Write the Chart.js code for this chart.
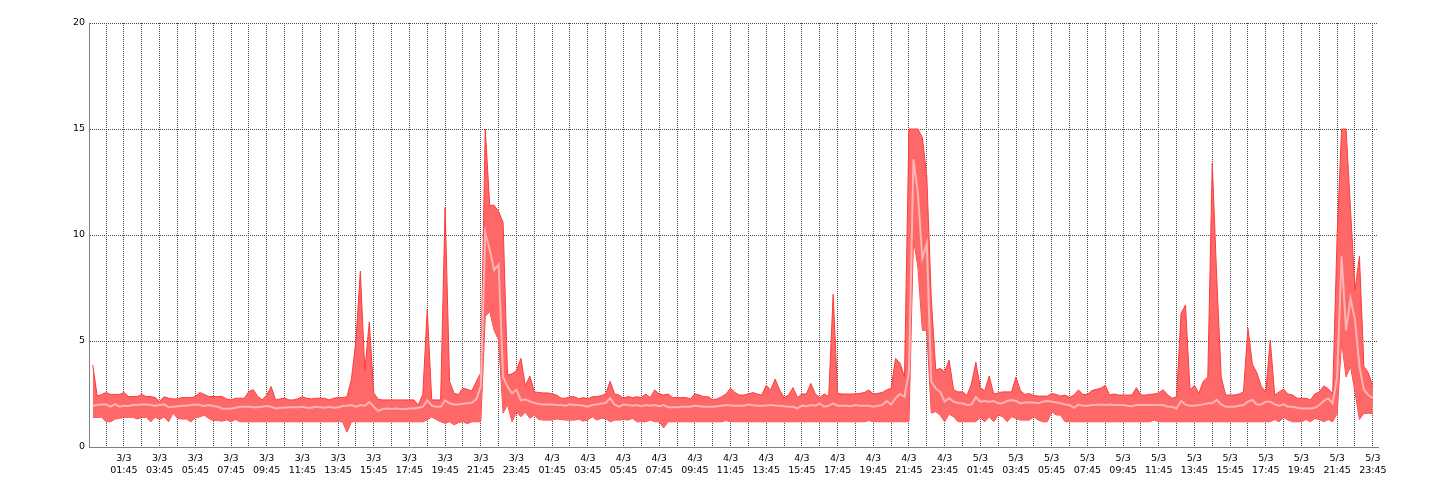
<!DOCTYPE html>
<html>
<head>
<meta charset="utf-8">
<script src="https://cdn.jsdelivr.net/npm/chart.js@4.4.1/dist/chart.umd.min.js"></script>
<style>
html,body{margin:0;padding:0;background:#fff;}
#wrap{width:1440px;height:500px;}
</style>
</head>
<body>
<div id="wrap"><canvas id="c" width="1440" height="500"></canvas></div>
<script>
// ---- data (15-minute samples starting 3/3 00:00) ----
const days = ['3/3', '4/3', '5/3'];
const tickTimes = ['01:45','03:45','05:45','07:45','09:45','11:45','13:45','15:45','17:45','19:45','21:45','23:45'];
const sampleStepHours = 0.25;

const maxDay1 = [3.87,2.40,2.48,2.57,2.48,2.48,2.48,2.57,2.38,2.38,
  2.38,2.48,2.38,2.38,2.33,2.14,2.37,2.30,2.27,2.27,
  2.33,2.33,2.33,2.37,2.57,2.48,2.38,2.38,2.38,2.38,
  2.27,2.22,2.30,2.30,2.30,2.62,2.70,2.38,2.22,2.45,
  2.85,2.22,2.27,2.30,2.22,2.22,2.28,2.37,2.30,2.27,
  2.30,2.30,2.30,2.22,2.30,2.33,2.33,2.37,3.20,5.00,
  8.30,3.60,5.90,2.55,2.25,2.22,2.22,2.22,2.22,2.22,
  2.22,2.22,2.22,1.98,2.48,6.50,2.22,2.22,2.22,11.30,
  3.10,2.53,2.48,2.77,2.72,2.64,3.08,3.50,15.0,11.4,
  11.4,11.1,10.6,3.40,3.45,3.60];
const avgDay1 = [1.95,1.98,2.01,2.01,1.90,2.02,1.90,1.95,1.93,1.98,
  1.98,2.01,2.01,1.98,1.95,1.98,2.01,1.88,1.90,1.92,
  1.95,1.95,1.98,2.01,1.98,1.93,1.98,1.93,1.90,1.82,
  1.80,1.80,1.85,1.90,1.90,1.90,1.87,1.87,1.90,1.93,
  1.90,1.82,1.85,1.85,1.87,1.87,1.87,1.90,1.85,1.85,
  1.90,1.87,1.85,1.90,1.85,1.87,1.93,1.95,1.98,1.90,
  1.98,1.95,2.12,1.90,1.70,1.79,1.82,1.79,1.82,1.79,
  1.79,1.82,1.82,1.85,1.90,2.20,1.95,1.90,1.90,2.20,
  2.06,2.01,2.01,2.04,2.06,2.09,2.26,2.86,10.1,9.3,
  8.35,8.6,3.3,2.84,2.53,2.7];
const minDay1 = [1.40,1.40,1.40,1.19,1.19,1.32,1.35,1.40,1.40,1.40,
  1.32,1.40,1.40,1.19,1.40,1.30,1.42,1.19,1.60,1.35,
  1.32,1.32,1.19,1.38,1.42,1.50,1.35,1.25,1.25,1.22,
  1.28,1.19,1.30,1.19,1.19,1.19,1.19,1.19,1.19,1.19,
  1.19,1.19,1.19,1.19,1.19,1.19,1.19,1.19,1.19,1.19,
  1.19,1.19,1.19,1.19,1.19,1.19,1.19,0.70,1.19,1.19,
  1.19,1.19,1.19,1.19,1.19,1.19,1.19,1.19,1.19,1.19,
  1.19,1.19,1.19,1.19,1.19,1.28,1.42,1.30,1.19,1.12,
  1.19,1.05,1.15,1.19,1.10,1.19,1.19,1.19,6.15,6.40,
  5.50,5.05,1.60,2.00,1.19,1.65];

const maxDay2 = [4.18,2.88,3.35,2.60,2.57,2.55,2.55,2.50,2.45,2.30,
  2.30,2.37,2.37,2.27,2.33,2.27,2.37,2.38,2.42,2.50,
  3.10,2.50,2.45,2.30,2.38,2.33,2.37,2.33,2.50,2.33,
  2.69,2.50,2.45,2.50,2.33,2.33,2.33,2.33,2.27,2.50,
  2.45,2.37,2.37,2.22,2.27,2.37,2.50,2.77,2.57,2.45,
  2.45,2.50,2.57,2.50,2.45,2.90,2.69,3.20,2.69,2.33,
  2.45,2.80,2.33,2.50,2.50,3.00,2.50,2.33,2.50,2.38,
  7.20,2.53,2.50,2.50,2.50,2.50,2.53,2.57,2.69,2.50,
  2.53,2.57,2.69,2.77,4.18,3.95,3.30,15.0,15.0,15.0,
  14.6,12.75,7.0,3.63,3.70,3.55];
const avgDay2 = [2.20,2.25,2.15,2.08,2.03,2.01,2.01,2.00,1.98,1.98,
  1.95,2.01,1.98,1.98,1.95,1.90,1.98,2.00,2.05,2.08,
  2.30,2.00,1.90,2.00,1.98,1.95,1.98,1.92,1.98,1.95,
  1.98,1.92,1.98,1.88,1.88,1.88,1.90,1.90,1.90,1.95,
  1.92,1.90,1.90,1.90,1.92,1.95,1.98,1.96,1.95,1.95,
  1.95,2.00,1.97,1.95,1.95,1.96,1.98,1.96,1.95,1.92,
  1.90,1.90,1.82,1.95,1.92,1.98,1.95,2.05,1.90,1.95,
  2.06,1.95,1.95,1.95,1.92,1.98,1.95,1.95,1.95,1.90,
  1.95,1.98,2.17,2.00,2.30,2.50,2.37,3.55,13.57,11.97,
  8.90,9.60,3.08,2.77,2.60,2.14];
const minDay2 = [1.43,1.65,1.35,1.50,1.30,1.27,1.27,1.27,1.32,1.30,
  1.27,1.27,1.27,1.32,1.22,1.27,1.43,1.27,1.35,1.35,
  1.19,1.27,1.27,1.30,1.27,1.35,1.19,1.19,1.19,1.27,
  1.19,1.19,0.90,1.19,1.19,1.19,1.19,1.19,1.19,1.19,
  1.19,1.19,1.19,1.19,1.19,1.19,1.25,1.19,1.19,1.19,
  1.19,1.19,1.19,1.19,1.19,1.19,1.19,1.19,1.19,1.19,
  1.19,1.19,1.19,1.19,1.19,1.19,1.19,1.19,1.19,1.19,
  1.19,1.19,1.19,1.19,1.19,1.19,1.19,1.19,1.25,1.19,
  1.19,1.19,1.19,1.19,1.19,1.19,1.19,1.19,9.80,8.50,
  5.50,5.50,1.60,1.67,1.50,1.19];

const maxDay3 = [4.10,2.70,2.60,2.60,2.43,2.97,4.00,2.80,2.65,3.35,
  2.50,2.55,2.60,2.60,2.60,3.30,2.65,2.48,2.52,2.43,
  2.40,2.40,2.40,2.52,2.48,2.40,2.45,2.33,2.45,2.69,
  2.48,2.48,2.66,2.72,2.77,2.90,2.45,2.50,2.45,2.45,
  2.45,2.45,2.80,2.45,2.45,2.48,2.50,2.55,2.70,2.45,
  2.30,2.37,6.30,6.70,2.70,2.90,2.53,3.10,3.30,13.40,
  8.00,3.30,2.45,2.45,2.45,2.50,2.60,5.60,3.90,3.50,
  2.85,2.60,5.05,2.45,2.60,2.72,2.50,2.45,2.30,2.30,
  2.30,2.22,2.50,2.60,2.88,2.75,2.50,10.0,15.0,15.0,
  11.2,7.4,9.0,3.8,3.5,2.85];
const avgDay3 = [2.30,2.14,2.08,2.06,1.98,2.00,2.35,2.14,2.17,2.14,
  2.17,2.06,2.06,2.17,2.22,2.17,2.06,2.10,2.10,2.10,
  2.06,2.14,2.17,2.14,2.10,2.06,2.00,1.98,1.85,2.00,
  1.95,1.95,1.98,1.98,2.00,1.98,2.00,1.98,1.98,1.98,
  1.95,1.92,1.98,1.98,1.98,1.98,1.98,1.98,1.98,1.90,
  1.90,1.82,2.17,2.00,1.95,1.95,1.98,2.01,2.06,2.06,
  2.22,2.01,1.90,1.90,1.90,1.95,1.98,2.14,2.22,2.01,
  2.01,2.14,2.14,2.01,1.95,2.01,1.90,1.90,1.85,1.82,
  1.82,1.82,1.85,1.98,2.17,2.30,2.06,3.30,9.00,5.50,
  7.00,6.00,3.80,2.70,2.45,2.30];
const minDay3 = [1.55,1.43,1.19,1.19,1.19,1.19,1.19,1.40,1.19,1.43,
  1.19,1.51,1.43,1.19,1.43,1.35,1.27,1.27,1.27,1.43,
  1.27,1.19,1.19,1.67,1.51,1.51,1.19,1.19,1.19,1.19,
  1.19,1.19,1.19,1.19,1.19,1.19,1.19,1.19,1.19,1.19,
  1.19,1.19,1.19,1.19,1.19,1.19,1.27,1.19,1.19,1.19,
  1.19,1.19,1.19,1.19,1.19,1.19,1.19,1.19,1.19,1.19,
  1.19,1.19,1.19,1.19,1.19,1.19,1.19,1.19,1.19,1.19,
  1.19,1.19,1.19,1.30,1.19,1.40,1.27,1.19,1.19,1.19,
  1.30,1.19,1.35,1.30,1.19,1.30,1.19,1.60,5.00,3.30,
  3.80,2.60,1.30,1.59,1.59,1.59];

const maxValues = [...maxDay1, ...maxDay2, ...maxDay3];
const avgValues = [...avgDay1, ...avgDay2, ...avgDay3];
const minValues = [...minDay1, ...minDay2, ...minDay3];

const toPoints = arr => arr.map((v, i) => ({x: i * sampleStepHours, y: v}));

const FONT = {family: '"DejaVu Sans", Verdana, sans-serif', size: 9.5, lineHeight: 1.3};

new Chart(document.getElementById('c'), {
  type: 'line',
  data: {
    datasets: [
      {label: 'avg', data: toPoints(avgValues), borderColor: '#ffb4b4', borderWidth: 2,
       pointRadius: 0, fill: false, tension: 0},
      {label: 'max', data: toPoints(maxValues), borderColor: '#ff3a3a', borderWidth: 1,
       backgroundColor: '#ff6868', pointRadius: 0, fill: '+1', tension: 0},
      {label: 'min', data: toPoints(minValues), borderColor: '#ff3a3a', borderWidth: 1,
       pointRadius: 0, fill: false, tension: 0}
    ]
  },
  options: {
    responsive: false,
    animation: false,
    devicePixelRatio: 1,
    layout: {padding: {left: 0, right: 62, top: 23, bottom: 0}},
    plugins: {legend: {display: false}, tooltip: {enabled: false}},
    scales: {
      x: {
        type: 'linear',
        min: -0.21,
        max: 72.04,
        afterFit: s => { s.height = 53; },
        afterBuildTicks: scale => {
          const t = [];
          for (let d = 0; d < days.length; d++)
            for (let h = 0; h < 24; h++) t.push({value: d * 24 + h + 0.75});
          scale.ticks = t;
        },
        ticks: {
          autoSkip: false, maxRotation: 0, minRotation: 0, padding: 5,
          color: '#000', font: FONT,
          callback: value => {
            const d = Math.floor(value / 24);
            const hh = value - d * 24 - 0.75;
            if (hh % 2 === 1) return [days[d], tickTimes[(hh - 1) / 2]];
            return '';
          }
        },
        grid: {color: '#4a4a4a', lineWidth: 1, drawTicks: false},
        border: {display: true, color: '#808080', width: 1, dash: [1, 1]}
      },
      y: {
        min: 0, max: 20,
        afterFit: s => { s.width = 89; },
        ticks: {stepSize: 5, padding: 4, color: '#000', font: FONT},
        grid: {color: '#4a4a4a', lineWidth: 1, drawTicks: false},
        border: {display: true, color: '#808080', width: 1, dash: [1, 1]}
      }
    }
  }
});
</script>
</body>
</html>
